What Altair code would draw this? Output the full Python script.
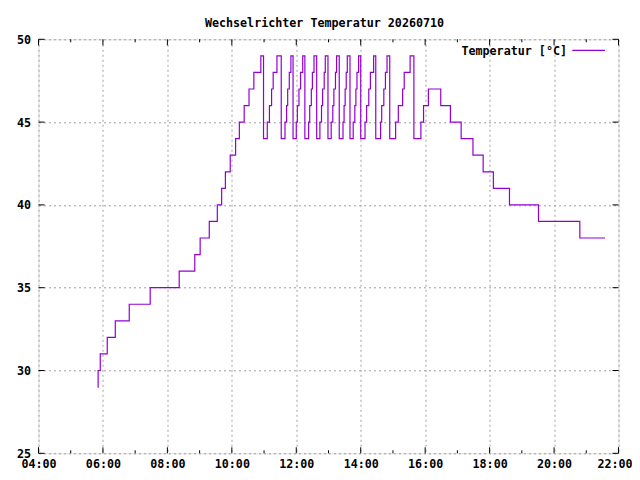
import altair as alt
import pandas as pd

TAG = "2026-07-10"
TITEL = "Wechselrichter Temperatur 20260710"
SERIE = "Temperatur [°C]"

# Messwerte: Zeitpunkt einer Änderung und neuer Wert (Treppenlinie)
zeiten = [
    "05:50", "05:51", "05:55", "06:08", "06:23", "06:49", "07:28", "08:22",
    "08:51", "09:01", "09:18", "09:33", "09:41", "09:48", "09:57", "10:07",
    "10:14", "10:23", "10:32", "10:41", "10:54",
    "10:59", "11:06", "11:10", "11:14", "11:17", "11:24",
    "11:32", "11:39", "11:42", "11:44", "11:47", "11:50",
    "11:54", "12:00", "12:02", "12:05", "12:08", "12:12",
    "12:16", "12:23", "12:25", "12:28", "12:30", "12:33",
    "12:38", "12:44", "12:47", "12:49", "12:52", "12:54",
    "12:59", "13:05", "13:08", "13:10", "13:13", "13:15",
    "13:20", "13:27", "13:29", "13:31", "13:33", "13:35",
    "13:40", "13:46", "13:49", "13:51", "13:53", "13:56",
    "14:00", "14:08", "14:11", "14:15", "14:18", "14:24",
    "14:28", "14:37", "14:39", "14:43", "14:46", "14:49",
    "14:54", "15:05", "15:10", "15:18", "15:21", "15:32",
    "15:39", "15:52", "15:57", "16:06", "16:29", "16:47", "17:07",
    "17:29", "17:48", "18:07", "18:37", "19:31", "20:48", "21:35",
]
temperaturen = [
    29, 30, 31, 32, 33, 34, 35, 36,
    37, 38, 39, 40, 41, 42, 43, 44,
    45, 46, 47, 48, 49,
    44, 45, 46, 47, 48, 49,
    44, 45, 46, 47, 48, 49,
    44, 45, 46, 47, 48, 49,
    44, 45, 46, 47, 48, 49,
    44, 45, 46, 47, 48, 49,
    44, 45, 46, 47, 48, 49,
    44, 45, 46, 47, 48, 49,
    44, 45, 46, 47, 48, 49,
    44, 45, 46, 47, 48, 49,
    44, 45, 46, 47, 48, 49,
    44, 45, 46, 47, 48, 49,
    44, 45, 46, 47, 46, 45, 44,
    43, 42, 41, 40, 39, 38, 38,
]

haupt_stunden = [4, 6, 8, 10, 12, 14, 16, 18, 20, 22]
neben_stunden = [5, 7, 9, 11, 13, 15, 17, 19, 21]
y_werte = [25, 30, 35, 40, 45, 50]

W, H = 580, 414
FONT = "DejaVu Sans Mono"
FS = 11.7
LILA = "#9400d3"
GRAU = "#a0a0a0"


def dt(h):
    return alt.DateTime(year=2026, month=7, date=10, hours=h)


def iso(h):
    return f"{TAG}T{h:02d}:00:00"


df = pd.DataFrame({
    "zeit": [f"{TAG}T{z}:00" for z in zeiten],
    "temp": temperaturen,
    "serie": SERIE,
})
df_haupt = pd.DataFrame({"zeit": [iso(h) for h in haupt_stunden]})
df_neben = pd.DataFrame({"zeit": [iso(h) for h in neben_stunden]})
df_y = pd.DataFrame({"temp": y_werte})
df_leg = pd.DataFrame({"serie": [SERIE]})

xscale = alt.Scale(domain=[dt(4), dt(22)])
yscale = alt.Scale(domain=[25, 50], nice=False, zero=False)

x_axis = alt.Axis(
    values=[dt(h) for h in haupt_stunden], format="%H:%M", title=None,
    grid=True, gridColor=GRAU, gridDash=[2, 3], gridWidth=1,
    ticks=False, domain=False, labelPadding=5, labelFlush=False,
    labelOverlap=False, labelFont=FONT, labelFontSize=FS,
    labelFontWeight="bold", labelColor="black",
    labelOffset={"condition": {"test": "hours(datum.value) == 22", "value": -4},
                 "value": 0},
)
y_axis = alt.Axis(
    values=y_werte, title=None, grid=True, gridColor=GRAU, gridDash=[2, 3],
    gridWidth=1, ticks=False, domain=False, labelPadding=8,
    labelFont=FONT, labelFontSize=FS, labelFontWeight="bold",
    labelColor="black",
)

linie = alt.Chart(df).mark_line(interpolate="step-after", strokeWidth=1.2).encode(
    x=alt.X("zeit:T", scale=xscale, axis=x_axis, title=None),
    y=alt.Y("temp:Q", scale=yscale, axis=y_axis, title=None),
    color=alt.Color("serie:N", scale=alt.Scale(range=[LILA]), legend=None),
)


def xticks(data, y0, y1):
    return alt.Chart(data).mark_rule(color="black", strokeWidth=1).encode(
        x=alt.X("zeit:T", scale=xscale, title=None),
        y=alt.value(y0), y2=alt.value(y1),
    )


def yticks(x0, x1):
    return alt.Chart(df_y).mark_rule(color="black", strokeWidth=1).encode(
        y=alt.Y("temp:Q", scale=yscale, title=None),
        x=alt.value(x0), x2=alt.value(x1),
    )


ticks = [
    xticks(df_haupt, H, H - 6), xticks(df_haupt, 0, 6),
    xticks(df_neben, H, H - 3), xticks(df_neben, 0, 3),
    yticks(0, 6), yticks(W - 6, W),
]

leg_text = alt.Chart(df_leg).mark_text(
    align="right", baseline="middle", font=FONT, fontSize=FS,
    fontWeight="bold", color="black",
).encode(text="serie:N", x=alt.value(528.5), y=alt.value(11.5))

leg_linie = alt.Chart(df_leg).mark_rule(strokeWidth=1.2).encode(
    color=alt.Color("serie:N", scale=alt.Scale(range=[LILA]), legend=None),
    x=alt.value(533.8), x2=alt.value(566.5), y=alt.value(11),
)

chart = alt.layer(linie, *ticks, leg_text, leg_linie).properties(
    width=W, height=H,
    title=alt.TitleParams(
        TITEL, font=FONT, fontSize=FS, fontWeight="bold", anchor="middle",
        dx=-4, dy=18, offset=14, baseline="alphabetic", color="black",
    ),
    autosize=alt.AutoSizeParams(type="none"),
    padding={"left": 30.5, "top": 31.3, "right": 13.5, "bottom": 18.7},
).configure_view(
    stroke="black", strokeWidth=1,
).configure(background="white")

chart.save("out.html", embed_options={"renderer": "svg", "actions": False})
